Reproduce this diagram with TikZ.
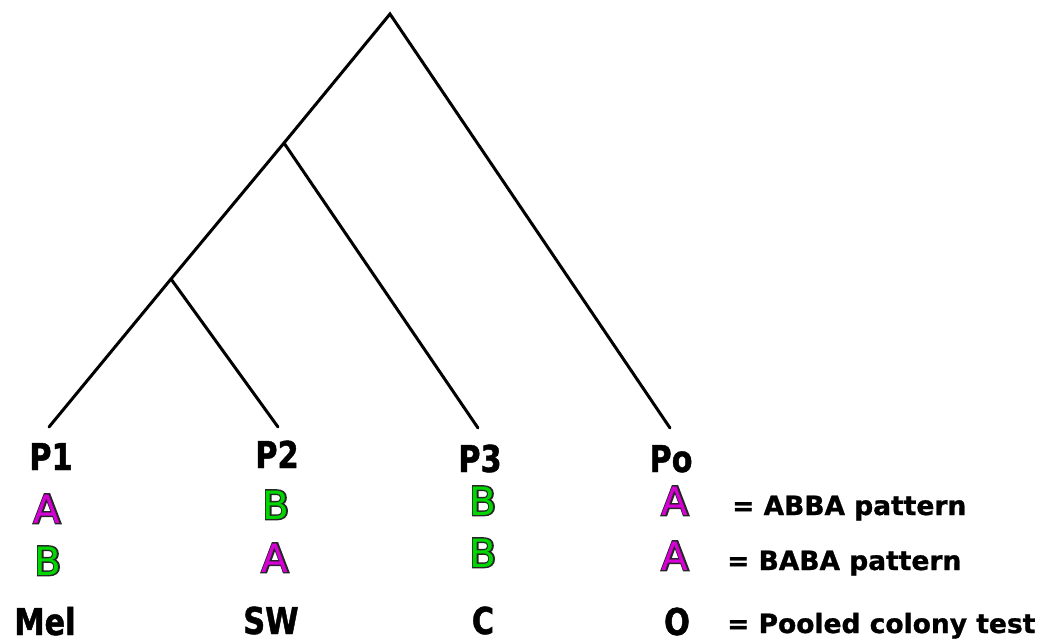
\documentclass[tikz,border=0pt]{standalone}
\usepackage{fontspec}
\setmainfont{DejaVu Sans}
\newfontfamily\labfont{DejaVu Sans Bold}[FakeStretch=0.82,FakeBold=1.2]
\newfontfamily\legfont{DejaVu Sans Bold}[FakeBold=1.0]
\newfontfamily\ghostfont{DejaVu Sans}[FakeBold=7]
\definecolor{amag}{RGB}{214,0,214}
\definecolor{bgrn}{RGB}{0,214,0}
\newcommand{\outl}[2]{\makebox[0pt][l]{\ghostfont\color{black!85}#2}\textcolor{#1}{#2}}
\begin{document}
\begin{tikzpicture}[x=1pt,y=-1pt,
  branch/.style={line width=3pt,line cap=round},
  taxon/.style={anchor=base,inner sep=0pt,font=\labfont\fontsize{37}{40}\selectfont},
  allele/.style={anchor=base,inner sep=0pt,font=\fontsize{39}{42}\selectfont},
  legend/.style={anchor=base west,inner sep=0pt,font=\legfont\fontsize{26.5}{30}\selectfont}]
\useasboundingbox (0,0) rectangle (1054,644);
% tree
\coordinate (root) at (390,14);
\coordinate (nA) at (284,143);
\coordinate (nB) at (171,279);
\coordinate (l1) at (49,427);
\coordinate (l2) at (278,427);
\coordinate (l3) at (478,428);
\coordinate (l4) at (670,428);
\draw[branch] (l1) -- (nB) -- (nA) -- (root) -- (l4);
\draw[branch] (nB) -- (l2);
\draw[branch] (nA) -- (l3);
% taxon labels
\node[taxon] (p1) at (51,470) {P1};
\node[taxon] (p2) at (277,468) {P2};
\node[taxon] (p3) at (480,472) {P3};
\node[taxon] (po) at (671,472) {Po};
% alleles row 1
\node[allele] (a11) at (47,523) {\outl{amag}{A}};
\node[allele] (a12) at (276,519) {\outl{bgrn}{B}};
\node[allele] (a13) at (483,515) {\outl{bgrn}{B}};
\node[allele] (a14) at (675,515) {\outl{amag}{A}};
% alleles row 2
\node[allele] (a21) at (48,575) {\outl{bgrn}{B}};
\node[allele] (a22) at (275,572) {\outl{amag}{A}};
\node[allele] (a23) at (483,567) {\outl{bgrn}{B}};
\node[allele] (a24) at (675,570) {\outl{amag}{A}};
% colony row
\node[taxon] (c1) at (45,635) {Mel};
\node[taxon] (c2) at (271,634) {SW};
\node[taxon] (c3) at (483,634) {C};
\node[taxon] (c4) at (677,635) {O};
% legend
\node[legend] (g1) at (732,515) {= ABBA pattern};
\node[legend] (g2) at (727,570) {= BABA pattern};
\node[legend] (g3) at (727,633) {= Pooled colony test};
\end{tikzpicture}
\end{document}
